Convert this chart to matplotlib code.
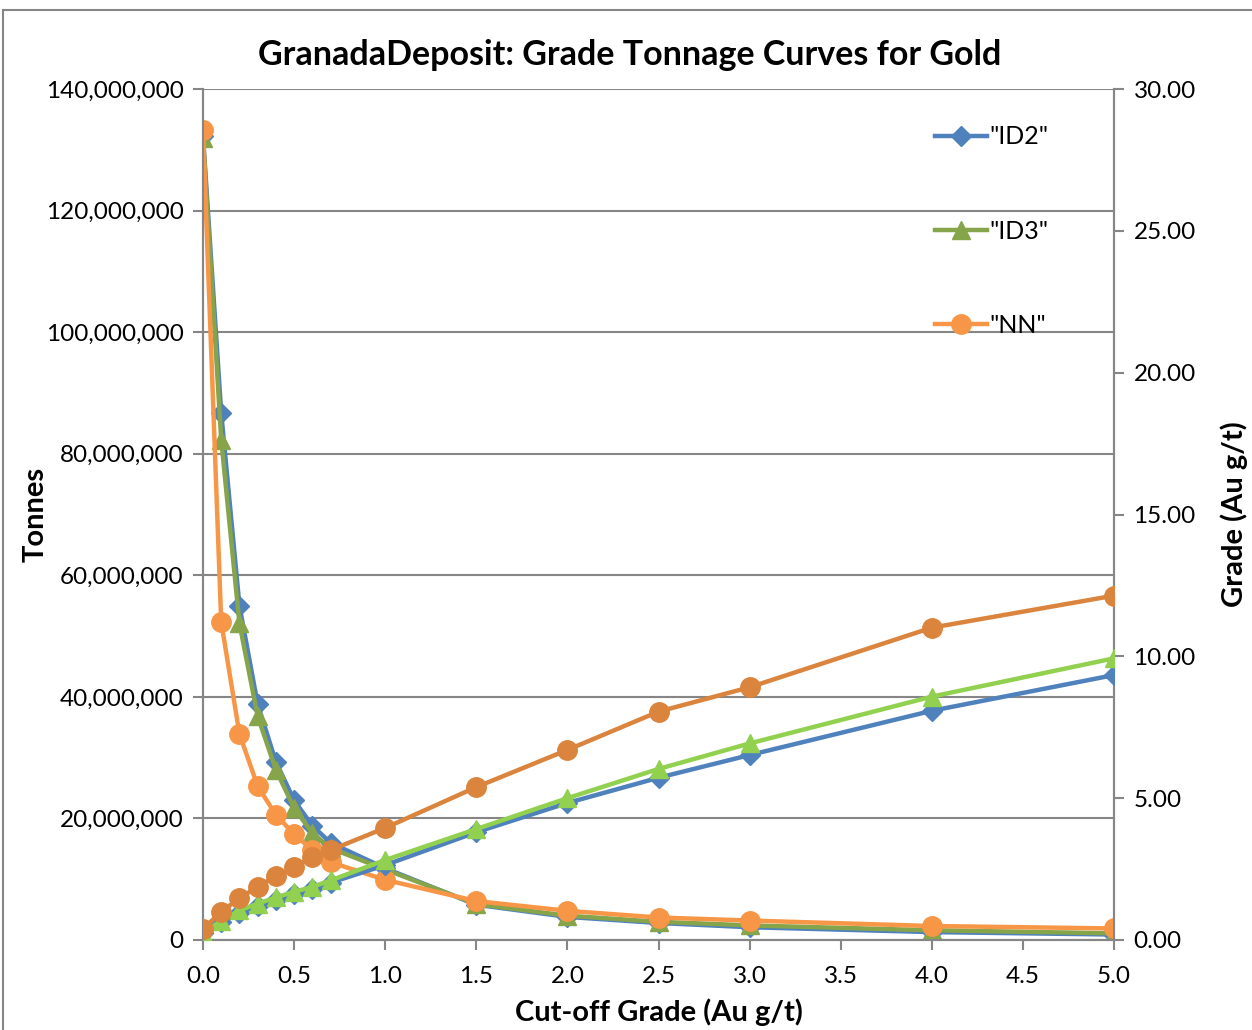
import matplotlib
matplotlib.use("Agg")
import matplotlib.pyplot as plt
from matplotlib.ticker import FuncFormatter, MultipleLocator
from matplotlib.patches import Rectangle

plt.rcParams['font.family'] = ['Lato', 'DejaVu Sans']

cutoff = [0.0, 0.1, 0.2, 0.3, 0.4, 0.5, 0.6, 0.7, 1.0, 1.5, 2.0, 2.5, 3.0, 4.0, 5.0]

tonnes_id2 = [132.3e6, 86.7e6, 55.0e6, 38.8e6, 29.3e6, 23.0e6, 18.8e6, 16.0e6, 11.8e6, 5.8e6, 3.8e6, 2.8e6, 2.1e6, 1.3e6, 0.9e6]
tonnes_id3 = [132.0e6, 82.3e6, 52.1e6, 36.8e6, 28.0e6, 21.7e6, 17.6e6, 15.1e6, 11.6e6, 5.9e6, 4.0e6, 3.0e6, 2.4e6, 1.6e6, 1.1e6]
tonnes_nn = [133.2e6, 52.3e6, 33.9e6, 25.3e6, 20.6e6, 17.4e6, 14.8e6, 12.8e6, 9.9e6, 6.4e6, 4.8e6, 3.7e6, 3.2e6, 2.3e6, 1.9e6]

grade_id2 = [0.25, 0.62, 0.95, 1.2, 1.42, 1.62, 1.8, 2.02, 2.64, 3.8, 4.83, 5.72, 6.52, 8.08, 9.34]
grade_id3 = [0.25, 0.68, 1.04, 1.28, 1.5, 1.7, 1.87, 2.1, 2.82, 3.91, 5.0, 6.03, 6.93, 8.58, 9.93]
grade_nn = [0.39, 0.99, 1.48, 1.87, 2.26, 2.57, 2.93, 3.17, 3.95, 5.39, 6.7, 8.05, 8.91, 11.01, 12.14]

labels = ['"ID2"', '"ID3"', '"NN"']
title = 'GranadaDeposit: Grade Tonnage Curves for Gold'

c_blue = '#4F81BD'
c_green_dk = '#86A44A'
c_orange_lt = '#F79646'
c_green_lt = '#92D050'
c_orange_dk = '#DB843D'
grid_c = '#868686'

fig = plt.figure(figsize=(12.52, 10.30), dpi=100)
W, H = 1252, 1030
ax = fig.add_axes([203 / W, 1 - 940 / H, (1114 - 203) / W, (940 - 89) / H])
ax2 = ax.twinx()

lw = 3.2
l1, = ax.plot(cutoff, tonnes_id2, color=c_blue, lw=lw, marker='D', ms=10.5, label=labels[0], zorder=3)
l2, = ax.plot(cutoff, tonnes_id3, color=c_green_dk, lw=lw, marker='^', ms=12.5, label=labels[1], zorder=3)
l3, = ax.plot(cutoff, tonnes_nn, color=c_orange_lt, lw=lw, marker='o', ms=14, label=labels[2], zorder=3)

ax2.plot(cutoff, grade_id2, color=c_blue, lw=lw, marker='D', ms=10.5, zorder=3)
ax2.plot(cutoff, grade_id3, color=c_green_lt, lw=lw, marker='^', ms=12.5, zorder=3)
ax2.plot(cutoff, grade_nn, color=c_orange_dk, lw=lw, marker='o', ms=14, zorder=3)

ax.set_xlim(0, 5)
ax.set_ylim(0, 140e6)
ax2.set_ylim(0, 30)
ax.xaxis.set_major_locator(MultipleLocator(0.5))
ax.yaxis.set_major_locator(MultipleLocator(20e6))
ax2.yaxis.set_major_locator(MultipleLocator(5))
ax.xaxis.set_major_formatter(FuncFormatter(lambda v, p: f"{v:.1f}"))
ax.yaxis.set_major_formatter(FuncFormatter(lambda v, p: f"{v:,.0f}"))
ax2.yaxis.set_major_formatter(FuncFormatter(lambda v, p: f"{v:.2f}"))

ax.grid(axis='y', color=grid_c, lw=1.5)
ax.set_axisbelow(True)
for a in (ax, ax2):
    a.spines['top'].set_visible(False)
    for s in ('left', 'right', 'bottom'):
        a.spines[s].set_color(grid_c)
        a.spines[s].set_linewidth(1.5)
    a.tick_params(direction='out', length=7, width=1.5, color=grid_c, labelsize=17.5, pad=7)
ax.tick_params(axis='x', pad=12)

fig.text(630 / W, 1 - 55 / H, title, fontsize=24.5, fontweight='bold', ha='center', va='center')
ax.set_xlabel('Cut-off Grade (Au g/t)', fontsize=21, fontweight='bold', labelpad=8)
ax.set_ylabel('Tonnes', fontsize=21, fontweight='bold', labelpad=-2)
ax2.set_ylabel('Grade (Au g/t)', fontsize=21, fontweight='bold', labelpad=18)

leg = ax2.legend(handles=[l1, l2, l3], loc='upper left',
                 bbox_to_anchor=(922 / W, 1 - 113 / H), bbox_transform=fig.transFigure,
                 frameon=False, fontsize=18, labelspacing=2.85, handlelength=2.1,
                 handletextpad=0.1, borderpad=0)

fig.patches.append(Rectangle((3 / W, -0.1), 1.2, 1 - 10 / H + 0.1, transform=fig.transFigure,
                             fill=False, edgecolor=grid_c, lw=1.5))

fig.savefig('out.png', dpi=100)
